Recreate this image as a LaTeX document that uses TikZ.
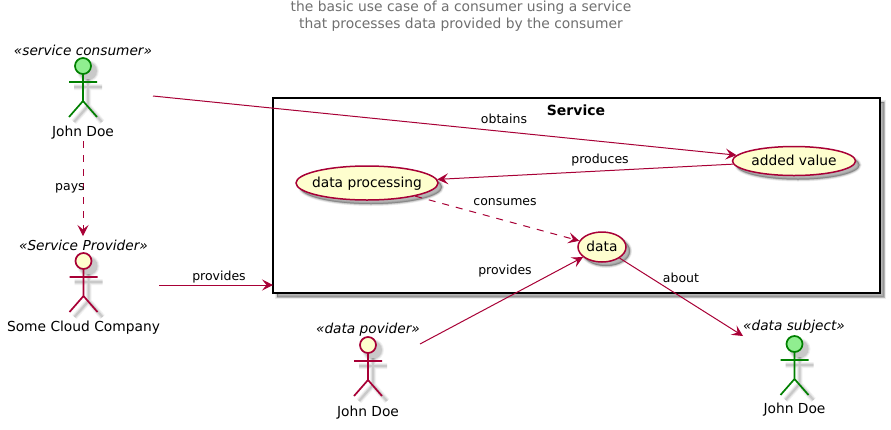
\documentclass[tikz,border=0pt]{standalone}
\usepackage{fontspec}
\setmainfont{DejaVu Sans}
\usetikzlibrary{arrows.meta,shapes.geometric,shadows}
\definecolor{plum}{HTML}{A80036}
\definecolor{cream}{HTML}{FEFECE}
\definecolor{lgreen}{HTML}{90EE90}
\definecolor{dgreen}{HTML}{008000}
\definecolor{titlegray}{HTML}{707070}
\tikzset{
  softshadow/.style={
    general shadow={shadow xshift=4pt,shadow yshift=-4pt,fill=black,draw=black,opacity=.07,line width=4pt},
    general shadow={shadow xshift=4pt,shadow yshift=-4pt,fill=black,draw=black,opacity=.1,line width=2.5pt},
    general shadow={shadow xshift=4pt,shadow yshift=-4pt,fill=black,draw=black,opacity=.14,line width=1pt}},
  usecase/.style={ellipse,draw=plum,fill=cream,line width=1.5pt,inner sep=0pt,font=\fontsize{13.8}{16}\selectfont,softshadow},
  label/.style={inner sep=0pt,font=\fontsize{12.5}{15}\selectfont,text=black},
  actorname/.style={inner sep=0pt,font=\fontsize{13.8}{16}\selectfont},
  stereo/.style={inner sep=0pt,font=\fontsize{13.7}{16}\selectfont\itshape},
  link/.style={draw=plum,line width=1pt,-{Stealth[length=11pt,width=11pt,inset=4.5pt,fill=plum]}},
  dashedlink/.style={link,dash pattern=on 7pt off 7pt},
}
\newcommand{\stickfig}[4]{% x, y of head centre, line colour, fill colour
  \begin{scope}[shift={(#1,#2)}]
    \foreach \w/\o in {6/.05,4/.07,2/.1}{
      \draw[black,opacity=\o,line width=\w pt,shift={(5,5)}]
        (-14,16)--(14,16) (0,8)--(0,35) (0,35)--(-14,51) (0,35)--(14,51);
      \fill[black,opacity=\o] (5,5) circle (8+\w/2);
    }
    \draw[#3,line width=1.7pt,fill=#4] (0,0) circle (8);
    \draw[#3,line width=1.7pt] (-14,16)--(14,16) (0,8)--(0,35) (-14,51)--(0,35)--(14,51);
  \end{scope}
}
\newcommand{\uctext}[1]{\smash{\makebox[0pt][c]{\raisebox{-.36em}{#1}}}}
\begin{document}
\begin{tikzpicture}[x=1pt,y=-1pt]
\useasboundingbox (0,0) rectangle (891,429);
\fill[white] (0,0) rectangle (891,429);

% title
\node[inner sep=0pt,align=center,text=titlegray,font=\fontsize{13.85}{17}\selectfont] (title) at (461,16)
  {the basic use case of a consumer using a service\\that processes data provided by the consumer};

% service box
\node[draw=black,fill=white,line width=2pt,minimum width=607pt,minimum height=195pt,inner sep=0pt,softshadow] (service) at (576.5,195.5) {};
\node[inner sep=0pt,font=\fontsize{14}{17}\selectfont\bfseries] (servicetitle) at (576,110.5) {Service};

% use cases
\node[usecase,minimum width=142pt,minimum height=34pt] (dp) at (367,183) {\uctext{data processing}};
\node[usecase,minimum width=123pt,minimum height=29pt] (added) at (794,161) {\uctext{added value}};
\node[usecase,minimum width=48pt,minimum height=30pt] (data) at (602,247) {\uctext{data}};

% actors
\stickfig{83}{66}{dgreen}{lgreen}
\node[stereo] (s1) at (83,50) {«service consumer»};
\node[actorname] (a1) at (83,133) {John Doe};

\stickfig{83.5}{261}{plum}{cream}
\node[stereo] (s2) at (83.5,245) {«Service Provider»};
\node[actorname] (a2) at (83.5,328) {Some Cloud Company};

\stickfig{368}{345}{plum}{cream}
\node[stereo] (s3) at (368,329.5) {«data povider»};
\node[actorname] (a3) at (368,413) {John Doe};

\stickfig{794.5}{344}{dgreen}{lgreen}
\node[stereo] (s4) at (794,327) {«data subject»};
\node[actorname] (a4) at (794.5,410) {John Doe};

% connector ends at actors
\coordinate (c1) at (153,96);
\coordinate (c1b) at (83,141);
\coordinate (c2t) at (83,236);
\coordinate (c2) at (159,285);
\coordinate (c2e) at (273,285);
\coordinate (c3) at (420,344);
\coordinate (c4) at (743,336);

% connectors
\draw[link] (c1) -- (added);
\draw[dashedlink] (c1b) -- (c2t);
\draw[link] (c2) -- (c2e);
\draw[link] (added) -- (dp);
\draw[dashedlink] (dp) -- (data);
\draw[link] (c3) -- (data);
\draw[link] (data) -- (c4);

% labels
\node[label] (l1) at (504,119) {obtains};
\node[label] (l2) at (70,188.5) {pays};
\node[label] (l3) at (219,277.5) {provides};
\node[label] (l4) at (600,160.5) {produces};
\node[label] (l5) at (505,202.5) {consumes};
\node[label] (l6) at (505,271.5) {provides};
\node[label] (l7) at (681,277.5) {about};
\end{tikzpicture}
\end{document}
